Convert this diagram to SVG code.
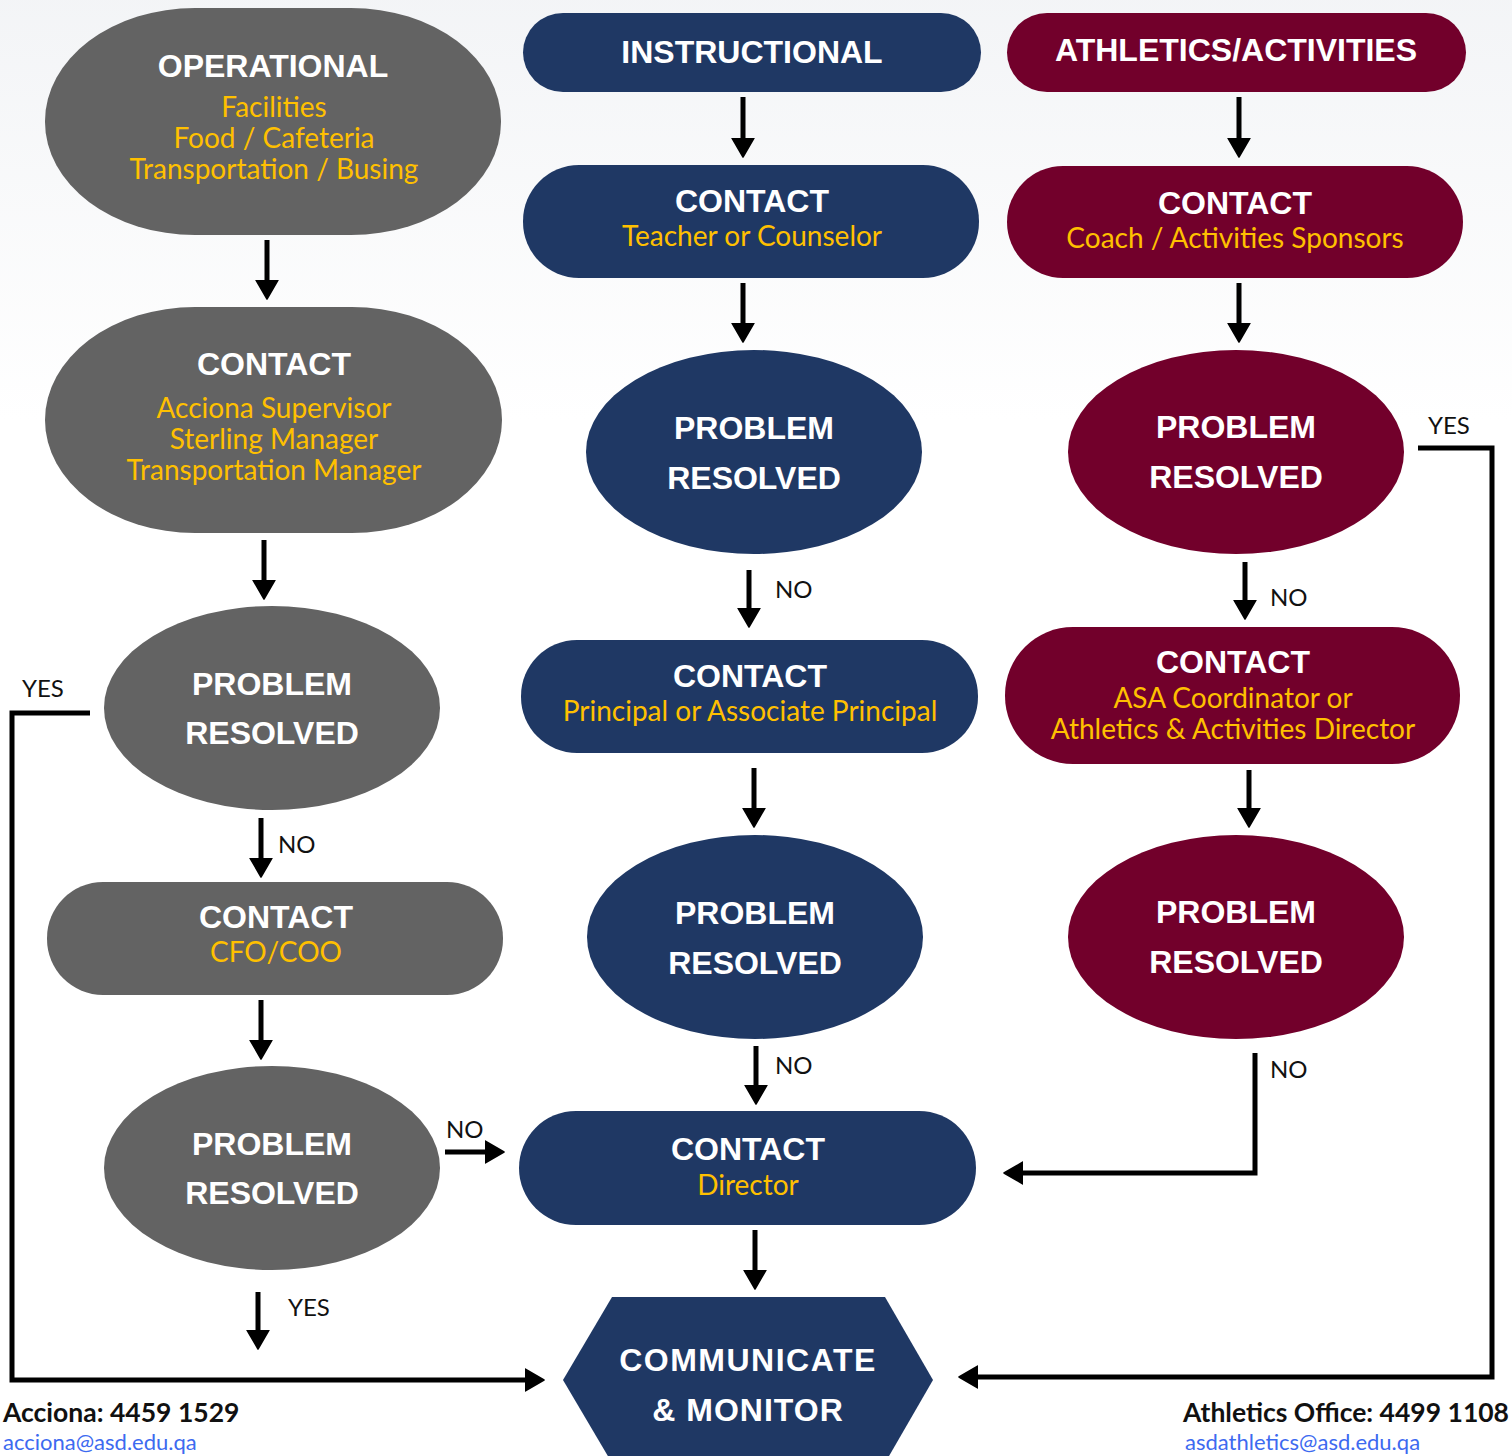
<svg xmlns="http://www.w3.org/2000/svg" width="1512" height="1456" viewBox="0 0 1512 1456">
<defs>
<style>
.t{font-family:"Liberation Sans",Arial,sans-serif;font-weight:bold;font-size:32px;fill:#ffffff;text-anchor:middle}
.s{font-family:Lato,"Open Sans",sans-serif;font-size:28px;fill:#ffc000;text-anchor:middle}
.l{font-family:Lato,"Open Sans",sans-serif;font-size:24px;fill:#111111}
.g{fill:#636363}
.n{fill:#1f3864}
.m{fill:#72002b}
.c{fill:none;stroke:#000;stroke-width:5;stroke-linejoin:miter}
.f{font-family:Lato,"Open Sans",sans-serif;font-weight:bold;font-size:26.5px;fill:#111}
.e{font-family:Lato,"Open Sans",sans-serif;font-size:22px;fill:#3d6af0}
</style>
<linearGradient id="bg" x1="0" y1="0" x2="0" y2="1">
<stop offset="0" stop-color="#eef0f3"/>
<stop offset="1" stop-color="#ffffff"/>
</linearGradient>
<marker id="ah" viewBox="0 0 20 24" refX="4" refY="12" markerWidth="20" markerHeight="24" markerUnits="userSpaceOnUse" orient="auto">
<path d="M0,1 L19,12 L0,23 Z" fill="#000" stroke="#000" stroke-width="1.5" stroke-linejoin="round"/>
</marker>
</defs>
<rect x="0" y="0" width="1512" height="1456" fill="#ffffff"/>
<rect x="0" y="0" width="1512" height="420" fill="url(#bg)" opacity="0.7"/>

<g id="op-header">
<rect class="g" x="45" y="8" width="456" height="227" rx="150" ry="113"/>
<text class="t" x="273" y="77">OPERATIONAL</text>
<text class="s" x="274" y="117">Facilities<tspan x="274" dy="31">Food / Cafeteria</tspan><tspan x="274" dy="31">Transportation / Busing</tspan></text>
</g>
<g id="op-contact1">
<rect class="g" x="45" y="307" width="457" height="226" rx="150" ry="113"/>
<text class="t" x="274" y="375">CONTACT</text>
<text class="s" x="274" y="418">Acciona Supervisor<tspan x="274" dy="31">Sterling Manager</tspan><tspan x="274" dy="31">Transportation Manager</tspan></text>
</g>
<g id="op-resolved1">
<ellipse class="g" cx="272" cy="708" rx="168" ry="102"/>
<text class="t" x="272" y="695">PROBLEM<tspan x="272" dy="49">RESOLVED</tspan></text>
</g>
<g id="op-contact2">
<rect class="g" x="47" y="882" width="456" height="113" rx="56" ry="56"/>
<text class="t" x="276" y="928">CONTACT</text>
<text class="s" x="276" y="962">CFO/COO</text>
</g>
<g id="op-resolved2">
<ellipse class="g" cx="272" cy="1168" rx="168" ry="102"/>
<text class="t" x="272" y="1155">PROBLEM<tspan x="272" dy="49">RESOLVED</tspan></text>
</g>

<g id="in-header">
<rect class="n" x="523" y="13" width="458" height="79" rx="40" ry="40"/>
<text class="t" x="752" y="63">INSTRUCTIONAL</text>
</g>
<g id="in-contact1">
<rect class="n" x="523" y="165" width="456" height="113" rx="56" ry="56"/>
<text class="t" x="752" y="212">CONTACT</text>
<text class="s" x="752" y="246">Teacher or Counselor</text>
</g>
<g id="in-resolved1">
<ellipse class="n" cx="754" cy="452" rx="168" ry="102"/>
<text class="t" x="754" y="439">PROBLEM<tspan x="754" dy="50">RESOLVED</tspan></text>
</g>
<g id="in-contact2">
<rect class="n" x="521" y="640" width="457" height="113" rx="56" ry="56"/>
<text class="t" x="750" y="687">CONTACT</text>
<text class="s" x="750" y="721">Principal or Associate Principal</text>
</g>
<g id="in-resolved2">
<ellipse class="n" cx="755" cy="937" rx="168" ry="102"/>
<text class="t" x="755" y="924">PROBLEM<tspan x="755" dy="50">RESOLVED</tspan></text>
</g>
<g id="in-contact3">
<rect class="n" x="519" y="1111" width="457" height="114" rx="57" ry="57"/>
<text class="t" x="748" y="1160">CONTACT</text>
<text class="s" x="748" y="1195">Director</text>
</g>
<g id="communicate">
<polygon class="n" points="612,1297 885,1297 933,1380 885,1463 612,1463 563,1380"/>
<text class="t" x="748" y="1371" style="letter-spacing:1.5px">COMMUNICATE</text>
<text class="t" x="748" y="1421" style="letter-spacing:1px">&amp; MONITOR</text>
</g>

<g id="at-header">
<rect class="m" x="1007" y="13" width="459" height="79" rx="40" ry="40"/>
<text class="t" x="1236" y="61">ATHLETICS/ACTIVITIES</text>
</g>
<g id="at-contact1">
<rect class="m" x="1007" y="166" width="456" height="112" rx="56" ry="56"/>
<text class="t" x="1235" y="214">CONTACT</text>
<text class="s" x="1235" y="248">Coach / Activities Sponsors</text>
</g>
<g id="at-resolved1">
<ellipse class="m" cx="1236" cy="452" rx="168" ry="102"/>
<text class="t" x="1236" y="438">PROBLEM<tspan x="1236" dy="50">RESOLVED</tspan></text>
</g>
<g id="at-contact2">
<rect class="m" x="1005" y="627" width="455" height="137" rx="68" ry="68"/>
<text class="t" x="1233" y="673">CONTACT</text>
<text class="s" x="1233" y="708">ASA Coordinator or<tspan x="1233" dy="31">Athletics &amp; Activities Director</tspan></text>
</g>
<g id="at-resolved2">
<ellipse class="m" cx="1236" cy="937" rx="168" ry="102"/>
<text class="t" x="1236" y="923">PROBLEM<tspan x="1236" dy="50">RESOLVED</tspan></text>
</g>

<g id="connectors">
<path class="c" marker-end="url(#ah)" d="M267,240 V284"/>
<path class="c" marker-end="url(#ah)" d="M264,540 V584"/>
<path class="c" marker-end="url(#ah)" d="M261,818 V862"/>
<path class="c" marker-end="url(#ah)" d="M261,1000 V1044"/>
<path class="c" marker-end="url(#ah)" d="M445,1152 H489"/>
<path class="c" marker-end="url(#ah)" d="M258,1292 V1334"/>
<path class="c" marker-end="url(#ah)" d="M90,713 H12 V1380 H529"/>

<path class="c" marker-end="url(#ah)" d="M743,97 V142"/>
<path class="c" marker-end="url(#ah)" d="M743,283 V327"/>
<path class="c" marker-end="url(#ah)" d="M749,570 V612"/>
<path class="c" marker-end="url(#ah)" d="M754,768 V812"/>
<path class="c" marker-end="url(#ah)" d="M756,1046 V1089"/>
<path class="c" marker-end="url(#ah)" d="M755,1230 V1274"/>

<path class="c" marker-end="url(#ah)" d="M1239,97 V142"/>
<path class="c" marker-end="url(#ah)" d="M1239,283 V327"/>
<path class="c" marker-end="url(#ah)" d="M1245,562 V604"/>
<path class="c" marker-end="url(#ah)" d="M1249,770 V812"/>
<path class="c" marker-end="url(#ah)" d="M1255,1053 V1173 H1019"/>
<path class="c" marker-end="url(#ah)" d="M1418,448 H1492 V1377 H974"/>

<text class="l" x="22" y="697">YES</text>
<text class="l" x="278" y="853">NO</text>
<text class="l" x="446" y="1138">NO</text>
<text class="l" x="288" y="1316">YES</text>
<text class="l" x="775" y="598">NO</text>
<text class="l" x="775" y="1074">NO</text>
<text class="l" x="1428" y="434">YES</text>
<text class="l" x="1270" y="606">NO</text>
<text class="l" x="1270" y="1078">NO</text>
</g>

<g id="footer">
<text class="f" x="3" y="1422">Acciona: 4459 1529</text>
<text class="e" x="3" y="1450">acciona@asd.edu.qa</text>
<text class="f" x="1509" y="1422" text-anchor="end">Athletics Office: 4499 1108</text>
<text class="e" x="1185" y="1450">asdathletics@asd.edu.qa</text>
</g>
</svg>
